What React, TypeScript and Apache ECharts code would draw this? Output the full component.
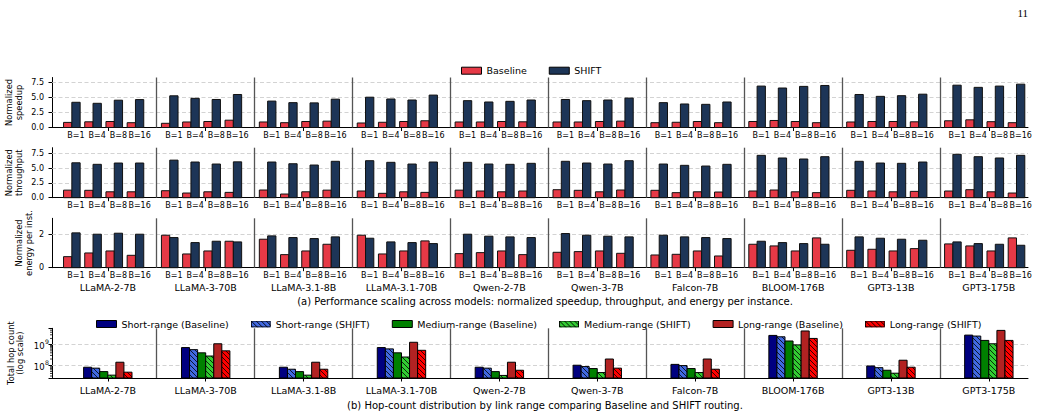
import React, { useEffect, useRef } from 'react';
import * as echarts from 'echarts';

// ---------------- data ----------------
const models = ['LLaMA-2-7B', 'LLaMA-3-70B', 'LLaMA-3.1-8B', 'LLaMA-3.1-70B', 'Qwen-2-7B', 'Qwen-3-7B', 'Falcon-7B', 'BLOOM-176B', 'GPT3-13B', 'GPT3-175B'];
const batchSizes = ['B=1', 'B=4', 'B=8', 'B=16'];

const speedupBaseline = [
  [0.85, 0.95, 1.0, 0.8], [0.7, 0.92, 1.0, 1.22], [0.92, 0.8, 1.0, 1.06], [0.75, 0.87, 1.0, 1.12], [0.92, 0.92, 1.0, 0.95],
  [0.92, 0.92, 1.0, 1.06], [0.8, 0.87, 1.0, 0.8], [1.0, 1.17, 1.0, 0.8], [0.92, 1.0, 1.0, 0.95], [1.12, 1.28, 0.97, 0.8],
];
const speedupShift = [
  [4.2, 4.03, 4.55, 4.65], [5.28, 4.86, 4.67, 5.5], [4.4, 4.14, 4.1, 4.72], [5.05, 4.75, 4.58, 5.4], [4.47, 4.25, 4.36, 4.58],
  [4.67, 4.47, 4.58, 4.9], [4.14, 3.92, 3.86, 4.25], [6.9, 6.58, 6.85, 7.0], [5.5, 5.19, 5.3, 5.55], [7.05, 6.69, 6.9, 7.22],
];
const throughputBaseline = [
  [1.28, 1.25, 1.0, 1.0], [1.18, 0.79, 1.0, 0.9], [1.3, 0.62, 1.0, 1.28], [1.13, 0.74, 1.0, 0.9], [1.28, 1.13, 1.0, 1.13],
  [1.35, 1.25, 1.0, 1.3], [1.25, 0.85, 1.0, 0.96], [1.13, 1.3, 1.0, 0.85], [1.25, 1.13, 1.0, 1.07], [1.13, 1.35, 1.0, 0.79],
];
const throughputShift = [
  [5.9, 5.64, 5.86, 5.86], [6.35, 6.03, 5.69, 6.06], [6.03, 5.74, 5.52, 6.15], [6.25, 5.98, 5.69, 6.03], [5.98, 5.69, 5.64, 5.81],
  [6.15, 5.86, 5.69, 6.25], [5.69, 5.47, 5.35, 5.64], [7.16, 6.71, 6.54, 6.93], [6.15, 5.86, 5.81, 6.03], [7.33, 6.93, 6.71, 7.16],
];
const energyBaseline = [
  [0.66, 0.88, 1.0, 0.74], [1.94, 0.82, 1.0, 1.58], [1.7, 0.78, 1.0, 1.4], [1.94, 0.82, 1.0, 1.6], [0.84, 0.9, 1.0, 0.78],
  [0.92, 0.96, 1.0, 0.86], [0.76, 0.8, 1.0, 0.7], [1.4, 1.3, 1.0, 1.78], [1.04, 1.1, 1.0, 1.14], [1.42, 1.3, 1.0, 1.78],
];
const energyShift = [
  [2.08, 2.0, 2.06, 2.0], [1.8, 1.5, 1.58, 1.54], [1.9, 1.8, 1.74, 1.84], [1.76, 1.54, 1.5, 1.44], [2.0, 1.88, 1.84, 1.8],
  [2.04, 1.94, 1.88, 1.84], [1.94, 1.84, 1.8, 1.74], [1.58, 1.5, 1.44, 1.4], [1.84, 1.76, 1.7, 1.64], [1.54, 1.44, 1.4, 1.34],
];

const hopSeriesNames = ['Short-range (Baseline)', 'Short-range (SHIFT)', 'Medium-range (Baseline)', 'Medium-range (SHIFT)', 'Long-range (Baseline)', 'Long-range (SHIFT)'];
const shortRangeBaseline = [8e7, 7.2e8, 8e7, 7.2e8, 8e7, 1.0e8, 1.1e8, 2.8e9, 9.2e7, 2.9e9];
const shortRangeShift = [7.2e7, 5.7e8, 6.4e7, 6.2e8, 7.2e7, 8.6e7, 9.6e7, 2.4e9, 7.6e7, 2.6e9];
const mediumRangeBaseline = [4.9e7, 4.0e8, 4.9e7, 4.0e8, 4.9e7, 6.9e7, 6.9e7, 1.5e9, 5.7e7, 1.6e9];
const mediumRangeShift = [3.3e7, 2.8e8, 3.3e7, 2.5e8, 3.2e7, 4.4e7, 4.4e7, 9.7e8, 4.1e7, 1.1e9];
const longRangeBaseline = [1.4e8, 1.1e9, 1.4e8, 1.3e9, 1.4e8, 2.0e8, 2.0e8, 4.6e9, 1.75e8, 4.9e9];
const longRangeShift = [4.6e7, 5.0e8, 6.4e7, 5.3e8, 5.7e7, 7.2e7, 6.4e7, 2.0e9, 8e7, 1.6e9];

const speedupTicks = [0, 2.5, 5, 7.5];
const throughputTicks = [0, 2.5, 5, 7.5];
const energyTicks = [0, 2];
const hopMajorTicks = [1e8, 1e9];
const hopMinorTicks = [3e7, 4e7, 5e7, 6e7, 7e7, 8e7, 9e7, 2e8, 3e8, 4e8, 5e8, 6e8, 7e8, 8e8, 9e8, 2e9, 3e9, 4e9, 5e9, 6e9];

// ---------------- layout / style constants ----------------
const FONT = 'DejaVu Sans';
const X_MIN = -0.57;
const X_MAX = 9.4;
const BATCH_PITCH = 0.2166;
const PAIR_BAR_W = 0.0848;
const HOP_BAR_W = 0.0824;
const HOP_MIN = 2.4e7;
const HOP_MAX = 6.2e9;
const RED = '#e63946';
const NAVY = '#1d3557';
const HOP_COLORS = ['#000080', '#4169e1', '#008000', '#32cd32', '#b22222', '#ff0000'];
const HATCH_SPACING = 5;

const modelCenters = models.map((_, i) => i);
const batchPositions: number[] = [];
models.forEach((_, m) => batchSizes.forEach((_, b) => batchPositions.push(m + (b - 1.5) * BATCH_PITCH)));
const separators = models.slice(1).map((_, i) => i + 0.5);

const rows = [
  { name: 'Normalized\nspeedup', base: speedupBaseline, shift: speedupShift, ticks: speedupTicks, max: 8.33, dec: 1, nameGap: 28.5, top: 77.5, height: 50 },
  { name: 'Normalized\nthroughput', base: throughputBaseline, shift: throughputShift, ticks: throughputTicks, max: 8.45, dec: 1, nameGap: 28.5, top: 147.7, height: 50 },
  { name: 'Normalized\nenergy per inst.', base: energyBaseline, shift: energyShift, ticks: energyTicks, max: 2.95, dec: 0, nameGap: 18.5, top: 218.3, height: 49.4 },
];
const hopValues = [shortRangeBaseline, shortRangeShift, mediumRangeBaseline, mediumRangeShift, longRangeBaseline, longRangeShift];

function hatchIcon(color: string) {
  let lines = '';
  for (let c = -10; c <= 22; c += HATCH_SPACING) {
    lines += `<line x1="${c}" y1="0" x2="${c + 7}" y2="7" stroke="black" stroke-width="0.9"/>`;
  }
  const svg = `<svg xmlns="http://www.w3.org/2000/svg" width="20" height="7" viewBox="0 0 20 7"><rect x="0" y="0" width="20" height="7" fill="${color}"/>${lines}<rect x="0.5" y="0.5" width="19" height="6" fill="none" stroke="black" stroke-width="1"/></svg>`;
  return 'image://data:image/svg+xml;charset=utf-8,' + encodeURIComponent(svg);
}

function hatchLines(x0: number, y0: number, x1: number, y1: number) {
  const out: any[] = [];
  const cStart = Math.floor((x0 - y1) / HATCH_SPACING) * HATCH_SPACING;
  for (let c = cStart; c <= x1 - y0; c += HATCH_SPACING) {
    const xa = Math.max(x0, y0 + c);
    const xb = Math.min(x1, y1 + c);
    if (xb > xa) {
      out.push({ type: 'line', shape: { x1: xa, y1: xa - c, x2: xb, y2: xb - c }, style: { stroke: '#000', lineWidth: 0.8 } });
    }
  }
  return out;
}

function buildOption() {
  const tickText = { fontFamily: FONT, fontSize: 8, color: '#000' };
  const modelText = { fontFamily: FONT, fontSize: 9.5, color: '#000' };
  const grid: any[] = rows.map((r) => ({ left: 52, right: 10, top: r.top, height: r.height, outerBoundsMode: 'none' }));
  grid.push({ left: 52, right: 10, top: 328.3, height: 49.7, outerBoundsMode: 'none' });

  const xAxis: any[] = [];
  rows.forEach((_, i) => {
    xAxis.push({
      type: 'value', gridIndex: i, min: X_MIN, max: X_MAX, position: 'bottom',
      axisLine: { show: true, onZero: false, lineStyle: { color: '#000', width: 1 } },
      axisTick: { show: true, customValues: modelCenters, length: 3.5, lineStyle: { color: '#000', width: 1 } },
      axisLabel: {
        ...tickText, margin: 3.5, customValues: batchPositions, showMinLabel: true, showMaxLabel: true, hideOverlap: false,
        formatter: (v: number) => {
          const m = Math.round(v);
          const b = Math.round((v - m) / BATCH_PITCH + 1.5);
          return batchSizes[b] ?? '';
        },
      },
      splitLine: { show: false },
    });
  });
  // hop chart x-axis (index 3)
  xAxis.push({
    type: 'value', gridIndex: 3, min: X_MIN, max: X_MAX, position: 'bottom',
    axisLine: { show: true, onZero: false, lineStyle: { color: '#000', width: 1 } },
    axisTick: { show: true, customValues: modelCenters, length: 3.5, lineStyle: { color: '#000', width: 1 } },
    axisLabel: { ...modelText, margin: 7.5, customValues: modelCenters, showMinLabel: true, showMaxLabel: true, formatter: (v: number) => models[Math.round(v)] ?? '' },
    splitLine: { show: false },
  });
  // model names below energy row (index 4)
  xAxis.push({
    type: 'value', gridIndex: 2, min: X_MIN, max: X_MAX, position: 'bottom',
    axisLine: { show: false, onZero: false }, axisTick: { show: false },
    axisLabel: { ...modelText, margin: 14.5, customValues: modelCenters, showMinLabel: true, showMaxLabel: true, formatter: (v: number) => models[Math.round(v)] ?? '' },
    splitLine: { show: false },
  });

  const yAxis: any[] = rows.map((r, i) => ({
    type: 'value', gridIndex: i, min: 0, max: r.max,
    name: r.name, nameLocation: 'middle', nameGap: r.nameGap, nameRotate: 90, nameMoveOverlap: false,
    nameTextStyle: { fontFamily: FONT, fontSize: 8.3, color: '#000', lineHeight: 9.5 },
    axisLine: { show: true, onZero: false, lineStyle: { color: '#000', width: 1 } },
    axisTick: { show: true, customValues: r.ticks, length: 3.5, lineStyle: { color: '#000', width: 1 } },
    axisLabel: { ...tickText, margin: 8, customValues: r.ticks, showMinLabel: true, showMaxLabel: true, formatter: (v: number) => v.toFixed(r.dec) },
    splitLine: { show: false },
  }));
  yAxis.push({
    type: 'log', logBase: 10, gridIndex: 3, min: HOP_MIN, max: HOP_MAX,
    name: 'Total hop count\n(log scale)', nameLocation: 'middle', nameGap: 27, nameRotate: 90, nameMoveOverlap: false,
    nameTextStyle: { fontFamily: FONT, fontSize: 8.3, color: '#000', lineHeight: 9.5 },
    axisLine: { show: true, onZero: false, lineStyle: { color: '#000', width: 1 } },
    axisTick: { show: true, length: 3.5, lineStyle: { color: '#000', width: 1 } },
    axisLabel: {
      ...tickText, margin: 3,
      formatter: (v: number) => {
        const hit = hopMajorTicks.find((t) => Math.abs(v - t) / t < 1e-6);
        if (!hit) return '';
        return '{b|10}{s|' + Math.round(Math.log10(hit)) + '}';
      },
      rich: {
        b: { fontFamily: FONT, fontSize: 8.5, color: '#000', lineHeight: 12, verticalAlign: 'bottom' },
        s: { fontFamily: FONT, fontSize: 6.2, color: '#000', lineHeight: 12, verticalAlign: 'top', padding: [0, 0, 0, 0.5] },
      },
    },
    splitLine: { show: false },
  });

  const gridLineStyle = { color: '#c8c8c8', width: 0.8, type: [4, 2.5] };
  const sepStyle = { color: '#555', width: 1.3, type: 'solid' };
  const markerSeries = (i: number, ticks: number[]) => ({
    type: 'line', name: 'guides' + i, data: [], xAxisIndex: i, yAxisIndex: i, silent: true, z: 1,
    markLine: {
      silent: true, symbol: ['none', 'none'], z: 1, animation: false,
      label: { show: false }, emphasis: { disabled: true },
      data: [
        ...ticks.filter((t) => t > (i === 3 ? HOP_MIN : 0)).map((t) => ({ yAxis: t, lineStyle: gridLineStyle })),
        ...separators.map((s) => ({ xAxis: s, lineStyle: sepStyle })),
      ],
    },
  });

  const series: any[] = [];
  rows.forEach((r, i) => {
    [r.base, r.shift].forEach((vals, kind) => {
      const color = kind === 0 ? RED : NAVY;
      const data: number[][] = [];
      vals.forEach((arr, m) => arr.forEach((v, b) => data.push([m, b, v])));
      series.push({
        type: 'custom', name: kind === 0 ? 'Baseline' : 'SHIFT', xAxisIndex: i, yAxisIndex: i, z: 2,
        encode: { x: 0, y: 2 },
        itemStyle: { color, borderColor: '#000', borderWidth: 1 },
        data,
        renderItem: (_p: any, api: any) => {
          const m = api.value(0) as number;
          const b = api.value(1) as number;
          const v = api.value(2) as number;
          const center = m + (b - 1.5) * BATCH_PITCH - (kind === 0 ? PAIR_BAR_W : 0);
          const p0 = api.coord([center - PAIR_BAR_W / 2, v]);
          const p1 = api.coord([center + PAIR_BAR_W / 2, 0]);
          return {
            type: 'rect',
            shape: { x: p0[0], y: p0[1], width: p1[0] - p0[0], height: p1[1] - p0[1] },
            style: { fill: color, stroke: '#111', lineWidth: 1 },
          };
        },
      });
    });
    series.push(markerSeries(i, r.ticks));
  });

  hopValues.forEach((vals, k) => {
    const color = HOP_COLORS[k];
    const hatched = k % 2 === 1;
    series.push({
      type: 'custom', name: hopSeriesNames[k], xAxisIndex: 3, yAxisIndex: 3, z: 2,
      encode: { x: 0, y: 1 },
      itemStyle: { color, borderColor: '#000', borderWidth: 1 },
      data: vals.map((v, m) => [m, v]),
      renderItem: (_p: any, api: any) => {
        const m = api.value(0) as number;
        const v = api.value(1) as number;
        const xc = m + (k - 2.5) * HOP_BAR_W;
        const pTop = api.coord([xc - HOP_BAR_W / 2, v]);
        const pBot = api.coord([xc + HOP_BAR_W / 2, HOP_MIN]);
        const x0 = pTop[0], y0 = pTop[1], x1 = pBot[0], y1 = pBot[1];
        const shape = { x: x0, y: y0, width: x1 - x0, height: y1 - y0 };
        const children: any[] = [{ type: 'rect', shape, style: { fill: color, stroke: 'none' } }];
        if (hatched) children.push(...hatchLines(x0, y0, x1, y1));
        children.push({ type: 'rect', shape, style: { fill: 'none', stroke: '#000', lineWidth: 1 } });
        return { type: 'group', children };
      },
    });
  });
  // minor ticks of the log axis
  series.push({
    type: 'custom', name: 'minorTicks', xAxisIndex: 3, yAxisIndex: 3, z: 3, silent: true,
    encode: { x: 0, y: 1 },
    data: hopMinorTicks.map((v) => [X_MIN, v]),
    renderItem: (_p: any, api: any) => {
      const p = api.coord([api.value(0), api.value(1)]);
      return { type: 'line', shape: { x1: p[0] - 2, y1: p[1], x2: p[0], y2: p[1] }, style: { stroke: '#000', lineWidth: 0.8 } };
    },
  });
  series.push(markerSeries(3, hopMajorTicks));

  const legendText = { fontFamily: FONT, fontSize: 9.5, color: '#000', lineHeight: 12 };
  const legend = [
    {
      left: 461, top: 64.7, padding: 0, itemWidth: 20, itemHeight: 7, itemGap: 22, selectedMode: false,
      textStyle: legendText,
      data: [
        { name: 'Baseline', icon: 'rect', itemStyle: { color: RED, borderColor: '#000', borderWidth: 1 } },
        { name: 'SHIFT', icon: 'rect', itemStyle: { color: NAVY, borderColor: '#000', borderWidth: 1 } },
      ],
    },
    {
      left: 96, top: 318, padding: 0, itemWidth: 20, itemHeight: 7, itemGap: 22, selectedMode: false,
      textStyle: legendText,
      data: hopSeriesNames.map((n, k) =>
        k % 2 === 1
          ? { name: n, icon: hatchIcon(HOP_COLORS[k]) }
          : { name: n, icon: 'rect', itemStyle: { color: HOP_COLORS[k], borderColor: '#000', borderWidth: 1 } }
      ),
    },
  ];

  const graphic = [
    {
      type: 'text', x: 545, y: 301,
      style: { text: '(a) Performance scaling across models: normalized speedup, throughput, and energy per instance.', fontFamily: FONT, fontSize: 10, fill: '#000', align: 'center', textAlign: 'center', verticalAlign: 'middle', textVerticalAlign: 'middle' },
    },
    {
      type: 'text', x: 545, y: 405,
      style: { text: '(b) Hop-count distribution by link range comparing Baseline and SHIFT routing.', fontFamily: FONT, fontSize: 10, fill: '#000', align: 'center', textAlign: 'center', verticalAlign: 'middle', textVerticalAlign: 'middle' },
    },
    {
      type: 'text', x: 1028, y: 12.5,
      style: { text: '11', fontFamily: 'Liberation Serif', fontSize: 11, fill: '#000', align: 'right', textAlign: 'right', verticalAlign: 'middle', textVerticalAlign: 'middle' },
    },
  ];

  return {
    animation: false,
    backgroundColor: '#fff',
    textStyle: { fontFamily: FONT },
    grid, xAxis, yAxis, series, legend, graphic,
  };
}

export default function App() {
  const ref = useRef<HTMLDivElement>(null);
  useEffect(() => {
    if (!ref.current) return;
    const chart = echarts.init(ref.current, undefined, { renderer: 'svg' });
    chart.setOption(buildOption() as any);
    return () => chart.dispose();
  }, []);
  return <div ref={ref} style={{ position: 'absolute', left: 0, top: 0, width: 1038, height: 417 }} />;
}
